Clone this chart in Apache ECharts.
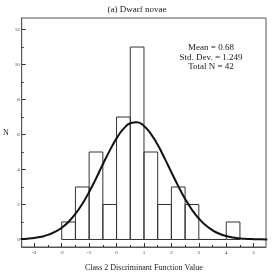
<!DOCTYPE html>
<html><head><meta charset="utf-8">
<script src="https://cdn.jsdelivr.net/npm/echarts@6/dist/echarts.min.js"></script>
<style>html,body{margin:0;padding:0;background:#fff}#c{width:274px;height:279px}</style>
</head><body><div id="c"></div>
<script>
const binStarts = [-2, -1.5, -1, -0.5, 0, 0.5, 1, 1.5, 2, 2.5, 3, 3.5, 4];
const counts = [1, 3, 5, 2, 7, 11, 5, 2, 3, 2, 0, 0, 1];
const binWidth = 0.5;
const curveX = [-3.5,-3.25,-3,-2.75,-2.5,-2.25,-2,-1.75,-1.5,-1.25,-1,-0.75,-0.5,-0.25,0,0.25,0.5,0.75,1,1.25,1.5,1.75,2,2.25,2.5,2.75,3,3.25,3.5,3.75,4,4.25,4.5,4.75,5,5.25,5.5];
const curveY = [0.025,0.047,0.087,0.155,0.26,0.43,0.67,1.01,1.46,2.03,2.71,3.48,4.30,5.08,5.78,6.32,6.64,6.70,6.49,6.04,5.41,4.65,3.84,3.05,2.32,1.70,1.20,0.81,0.525,0.33,0.197,0.113,0.062,0.033,0.017,0.008,0.004];
const xMajor = [-3, -2, -1, 0, 1, 2, 3, 4, 5];
const xMinor = [-2.5, -1.5, -0.5, 0.5, 1.5, 2.5, 3.5, 4.5];
const yMajor = [0, 2, 4, 6, 8, 10, 12];
const yMinor = [1, 3, 5, 7, 9, 11];
const statLines = ['Mean = 0.68', 'Std. Dev. = 1.249', 'Total N = 42'];

const font = 'Liberation Serif';
const chart = echarts.init(document.getElementById('c'), null, {renderer: 'canvas'});
const xRange = {min: -3.46, max: 5.45};
const yRange = {min: -0.43, max: 12.66};
const axisLineStyle = {color: '#555', width: 1};
chart.setOption({
  animation: false,
  backgroundColor: '#fff',
  title: {text: '(a) Dwarf novae', left: 'center', top: 0, textStyle: {fontFamily: font, fontSize: 9, fontWeight: 'normal', color: '#222'}},
  grid: {left: 16, top: 18, right: 8, bottom: 32, show: true, borderColor: '#555', borderWidth: 1, backgroundColor: 'transparent'},
  xAxis: [
    {type: 'value', min: xRange.min, max: xRange.max, splitLine: {show: false},
     axisLine: {show: true, onZero: false, lineStyle: axisLineStyle},
     axisTick: {show: true, inside: true, length: 4, customValues: xMajor, lineStyle: {color: '#333'}},
     axisLabel: {customValues: xMajor, fontFamily: font, fontSize: 5, color: '#333', margin: 3},
     name: 'Class 2 Discriminant Function Value', nameLocation: 'middle', nameGap: 17,
     nameTextStyle: {fontFamily: font, fontSize: 8, color: '#222'}},
    {type: 'value', min: xRange.min, max: xRange.max, position: 'bottom', splitLine: {show: false},
     axisLine: {show: false, onZero: false},
     axisTick: {show: true, inside: true, length: 2, customValues: xMinor, lineStyle: {color: '#333'}},
     axisLabel: {show: false}}
  ],
  yAxis: [
    {type: 'value', min: yRange.min, max: yRange.max, splitLine: {show: false},
     axisLine: {show: true, onZero: false, lineStyle: axisLineStyle},
     axisTick: {show: true, inside: true, length: 4, customValues: yMajor, lineStyle: {color: '#333'}},
     axisLabel: {customValues: yMajor, fontFamily: font, fontSize: 5, color: '#333', margin: 2},
     name: 'N', nameLocation: 'middle', nameGap: 11, nameRotate: 0,
     nameTextStyle: {fontFamily: font, fontSize: 8, color: '#222'}},
    {type: 'value', min: yRange.min, max: yRange.max, position: 'left', splitLine: {show: false},
     axisLine: {show: false, onZero: false},
     axisTick: {show: true, inside: true, length: 2, customValues: yMinor, lineStyle: {color: '#333'}},
     axisLabel: {show: false}}
  ],
  graphic: [{
    type: 'text', x: 211, y: 43,
    style: {text: statLines.join('\n'), fontFamily: font, fontSize: 9, lineHeight: 9.5, fill: '#222', align: 'center', verticalAlign: 'top'}
  }],
  series: [
    {type: 'custom', xAxisIndex: 0, yAxisIndex: 0, z: 2,
     data: binStarts.map((s, i) => [s, counts[i]]),
     renderItem: function (params, api) {
       const x0 = api.value(0), c = api.value(1);
       const p1 = api.coord([x0, c]);
       const p2 = api.coord([x0 + binWidth, 0]);
       return {type: 'rect', shape: {x: p1[0], y: p1[1], width: p2[0] - p1[0], height: p2[1] - p1[1]},
               style: {fill: 'none', stroke: '#333', lineWidth: 1}};
     }},
    {type: 'line', xAxisIndex: 0, yAxisIndex: 0, z: 3, smooth: true, symbol: 'none',
     data: curveX.map((x, i) => [x, curveY[i]]),
     lineStyle: {color: '#111', width: 2}, clip: true}
  ]
});
</script></body></html>
